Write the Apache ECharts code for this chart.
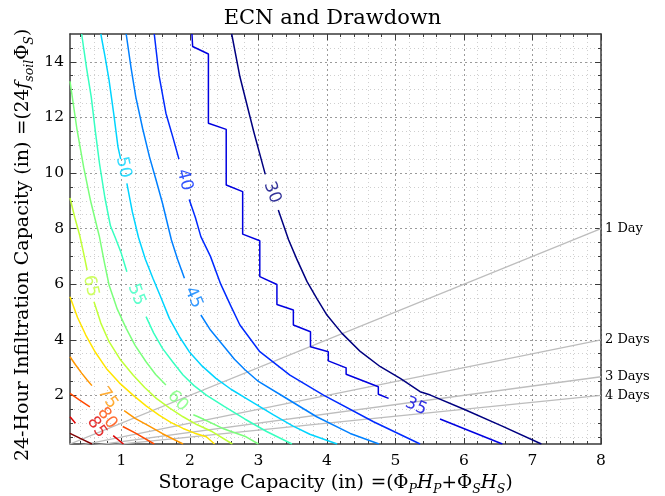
<!DOCTYPE html>
<html>
<head>
<meta charset="utf-8">
<script src="https://cdn.jsdelivr.net/npm/echarts@6/dist/echarts.min.js"></script>
<style>
html, body { margin: 0; padding: 0; background: #fff; }
#chart { width: 665px; height: 496px; }
</style>
</head>
<body>
<div id="chart"></div>
<script>
// axis ticks
const xTicks = [1, 2, 3, 4, 5, 6, 7, 8]
const yTicks = [2, 4, 6, 8, 10, 12, 14]

// ECN contour lines: [storage, infiltration], split where a label sits
const ecn30 = [
  [[2.61, 15], [2.73, 13.46], [2.93, 11.5], [3.04, 10.5], [3.1, 9.95]],
  [[3.29, 8.67], [3.44, 7.6], [3.56, 6.9], [3.71, 6.09], [3.86, 5.45], [4.0, 4.89], [4.22, 4.23], [4.49, 3.57],
   [4.78, 3.03], [5.07, 2.61], [5.36, 2.13], [5.51, 2.01], [6.0, 1.5], [6.55, 0.9], [7.13, 0.25]]
]
const ecn35 = [
  [[2.03, 15], [2.04, 14.55], [2.27, 14.28], [2.27, 11.79], [2.53, 11.57], [2.53, 9.57], [2.77, 9.33], [2.77, 7.8],
   [3.02, 7.56], [3.02, 6.27], [3.27, 5.99], [3.27, 5.27], [3.51, 5.07], [3.51, 4.53], [3.76, 4.29], [3.76, 3.75],
   [4.02, 3.57], [4.02, 3.24], [4.28, 2.99], [4.28, 2.76], [4.75, 2.31], [4.75, 2.04], [4.9, 1.89]],
  [[5.65, 1.15], [6.56, 0.25]]
]
const ecn40 = [
  [[1.48, 15], [1.55, 13.5], [1.65, 12.15], [1.75, 11.3], [1.84, 10.5]],
  [[1.99, 9.05], [2.08, 8.4], [2.16, 7.71], [2.3, 7.0], [2.45, 6.0], [2.6, 5.2], [2.73, 4.53], [3.02, 3.57],
   [3.46, 2.73], [3.95, 2.01], [4.68, 1.05], [5.36, 0.25]]
]
const ecn45 = [
  [[1.07, 15], [1.14, 13.8], [1.21, 12.74], [1.31, 11.6], [1.41, 10.58], [1.5, 9.8], [1.6, 8.91], [1.73, 7.59],
   [1.82, 6.9], [1.92, 6.21]],
  [[2.16, 4.89], [2.3, 4.35], [2.48, 3.81], [2.65, 3.3], [2.8, 2.93], [3.0, 2.5], [3.37, 1.95], [3.85, 1.23],
   [4.34, 0.63], [4.76, 0.25]]
]
const ecn50 = [
  [[0.7, 15], [0.76, 14.2], [0.82, 13.34], [0.89, 12.1], [0.95, 10.94], [0.99, 10.5]],
  [[1.08, 9.63], [1.16, 8.6], [1.25, 7.68], [1.35, 6.9], [1.46, 6.21], [1.58, 5.5], [1.7, 4.77], [1.85, 4.1],
   [1.99, 3.57], [2.18, 3.05], [2.38, 2.61], [2.6, 2.22], [2.82, 1.89], [3.22, 1.3], [3.5, 0.9], [3.75, 0.6],
   [4.15, 0.25]]
]
const ecn55 = [
  [[0.42, 15], [0.49, 13.8], [0.56, 12.74], [0.62, 11.5], [0.68, 10.35], [0.76, 9.1], [0.84, 8.1], [0.91, 7.68],
   [1.0, 7.1], [1.08, 6.45]],
  [[1.36, 4.83], [1.47, 4.25], [1.6, 3.69], [1.75, 3.2], [1.9, 2.73], [2.06, 2.35], [2.24, 2.01], [2.5, 1.6],
   [2.8, 1.15], [3.12, 0.7], [3.49, 0.25]]
]
const ecn60 = [
  [[0.25, 13.3], [0.35, 11.6], [0.45, 10.2], [0.55, 9.0], [0.62, 8.3], [0.68, 7.7], [0.75, 6.8], [0.82, 5.97],
   [0.94, 5.1], [1.07, 4.41], [1.2, 3.8], [1.36, 3.21], [1.5, 2.75], [1.65, 2.37]],
  [[2.05, 1.3], [2.12, 1.23], [2.48, 0.81], [2.82, 0.51], [3.0, 0.25]]
]
const ecn65 = [
  [[0.25, 9.1], [0.32, 8.4], [0.39, 7.77], [0.45, 7.1], [0.5, 6.5]],
  [[0.6, 5.37], [0.7, 4.6], [0.82, 3.93], [0.98, 3.3], [1.17, 2.73], [1.34, 2.28], [1.51, 1.89], [1.7, 1.55],
   [1.9, 1.23], [2.1, 0.95], [2.33, 0.69], [2.62, 0.25]]
]
const ecn70 = [
  [[0.25, 5.55], [0.36, 4.8], [0.48, 4.17], [0.62, 3.55], [0.78, 2.97], [0.97, 2.45], [1.17, 2.01], [1.36, 1.62],
   [1.55, 1.29], [1.72, 1.03], [1.9, 0.81], [2.07, 0.64], [2.24, 0.51], [2.36, 0.25]]
]
const ecn75 = [
  [[0.25, 3.39], [0.33, 3.1], [0.42, 2.8], [0.5, 2.55], [0.57, 2.35]],
  [[1.04, 1.45], [1.2, 1.17], [1.4, 0.9], [1.6, 0.62], [1.9, 0.25]]
]
const ecn80 = [
  [[0.25, 2.07], [0.38, 1.85], [0.54, 1.59]],
  [[1.02, 0.88], [1.2, 0.65], [1.48, 0.25]]
]
const ecn85 = [
  [[0.25, 1.23], [0.33, 1.0]],
  [[0.88, 0.55], [1.03, 0.25]]
]
const ecn90 = [
  [[0.25, 0.63], [0.4, 0.45], [0.57, 0.25]]
]

const ecnLevels = [30, 35, 40, 45, 50, 55, 60, 65, 70, 75, 80, 85, 90]
const ecnLines = [ecn30, ecn35, ecn40, ecn45, ecn50, ecn55, ecn60, ecn65, ecn70, ecn75, ecn80, ecn85, ecn90]
// where each inline label sits (null = no label shown)
const ecnLabelAt = [[3.2, 9.3], [5.3, 1.6], [1.92, 9.75], [2.05, 5.52], [1.03, 10.2], [1.22, 5.62], [1.82, 1.8],
  [0.55, 5.93], null, [0.8, 1.9], [0.79, 1.18], [0.64, 0.85], null]

// drawdown lines (through the origin) and their right-hand labels
const drawdownNames = ['1 Day', '2 Days', '3 Days', '4 Days']
const drawdownEnds = [[8, 8], [8, 4], [8, 2.67], [8, 2]]

// styling
const jet = ['#000080', '#0000e0', '#002aff', '#0080ff', '#00d4ff', '#37ffc0', '#7bff7b', '#c0ff37',
  '#ffe500', '#ff9700', '#ff4900', '#e00000', '#800000']
const labelAngle = [-70, -24, -76, -66, -78, -68, -46, -77, 0, -55, -55, -55, 0]

const serif = 'DejaVu Serif'
const X_MIN = 0.25, X_MAX = 8, Y_MIN = 0.25, Y_MAX = 15

function steps(lo, hi, step, skip) {
  const out = []
  for (let v = lo; v <= hi + 1e-9; v += step) {
    const r = Math.round(v * 10) / 10
    if (!skip.includes(r)) out.push(r)
  }
  return out
}
const xMinor = steps(0.4, 7.8, 0.2, xTicks)
const yMinor = steps(0.5, 14.5, 0.5, yTicks)

function axis(kind, position, values, major, withLabel, withGrid) {
  const isX = kind === 'x'
  return {
    type: 'value',
    position,
    min: isX ? X_MIN : Y_MIN,
    max: isX ? X_MAX : Y_MAX,
    axisLine: { show: major, onZero: false, lineStyle: { color: '#3a3a3a', width: 1.5 } },
    axisTick: { show: true, inside: true, length: major ? 6 : 3, customValues: values,
      lineStyle: { color: '#3a3a3a', width: 1 } },
    axisLabel: withLabel
      ? { show: true, customValues: values, fontFamily: serif, fontSize: 15.5, color: '#000', margin: isX ? 9 : 6 }
      : { show: false },
    splitLine: withGrid
      ? { show: true, lineStyle: major ? { type: [2, 3], color: '#9a9a9a', width: 1 } : { type: [1, 3], color: '#cfcfcf', width: 1 } }
      : { show: false }
  }
}

const sub = { fontFamily: serif, fontStyle: 'italic', fontSize: 12.5, lineHeight: 13, verticalAlign: 'bottom', color: '#000' }
const nameRich = {
  a: { fontFamily: serif, fontSize: 19, lineHeight: 26, color: '#000' },
  b: { fontFamily: serif, fontSize: 18.5, lineHeight: 26, color: '#000' },
  i: { fontFamily: serif, fontStyle: 'italic', fontSize: 18.5, lineHeight: 26, color: '#000' },
  s: sub
}

const xMain = axis('x', 'bottom', xTicks, true, true, true)
xMain.name = '{a|Storage Capacity (in)}  {b|=(Φ}{s|P}{i|H}{s|P}{b|+Φ}{s|S}{i|H}{s|S}{b|)}'
xMain.nameLocation = 'middle'
xMain.nameGap = 26
xMain.nameTextStyle = { rich: nameRich, verticalAlign: 'top' }

const yMain = axis('y', 'left', yTicks, true, true, true)
yMain.name = '{a|24-Hour Infiltration Capacity (in)}  {b|=(24}{i|f}{s|soil}{b|Φ}{s|S}{b|)}'
yMain.nameLocation = 'middle'
yMain.nameGap = 34
yMain.nameMoveOverlap = false
yMain.nameTextStyle = { rich: nameRich, padding: [0, 12, 0, 0] }

const series = []

// drawdown lines
drawdownEnds.forEach((end, i) => {
  series.push({
    type: 'line',
    data: [[0, 0], end],
    symbol: 'none',
    silent: true,
    clip: true,
    z: 1,
    lineStyle: { color: '#bdbdbd', width: 1.3 },
    endLabel: { show: true, formatter: drawdownNames[i], fontFamily: serif, fontSize: 13, color: '#000', distance: 4 }
  })
})

// contour lines
ecnLines.forEach((segments, i) => {
  segments.forEach(seg => {
    series.push({
      type: 'line',
      data: seg,
      symbol: 'none',
      silent: true,
      clip: true,
      z: 3,
      lineStyle: { color: jet[i], width: 1.5 }
    })
  })
})

// contour labels
ecnLevels.forEach((level, i) => {
  if (!ecnLabelAt[i]) return
  series.push({
    type: 'scatter',
    data: [ecnLabelAt[i]],
    symbolSize: 0,
    silent: true,
    z: 4,
    label: {
      show: true,
      position: 'inside',
      formatter: String(level),
      rotate: labelAngle[i],
      fontFamily: 'DejaVu Sans',
      fontSize: 17,
      color: jet[i]
    }
  })
})

const chart = echarts.init(document.getElementById('chart'), null, { renderer: 'canvas' })
chart.setOption({
  animation: false,
  backgroundColor: '#fff',
  title: {
    text: 'ECN and Drawdown',
    left: 'center',
    top: 3,
    textStyle: { fontFamily: serif, fontSize: 21, fontWeight: 'normal', color: '#000' }
  },
  grid: { left: 70, right: 64, top: 34, bottom: 52, containLabel: false, outerBoundsMode: 'none' },
  xAxis: [
    xMain,
    axis('x', 'bottom', xMinor, false, false, true),
    axis('x', 'top', xTicks, true, false, false),
    axis('x', 'top', xMinor, false, false, false)
  ],
  yAxis: [
    yMain,
    axis('y', 'left', yMinor, false, false, true),
    axis('y', 'right', yTicks, true, false, false),
    axis('y', 'right', yMinor, false, false, false)
  ],
  series
})
</script>
</body>
</html>
